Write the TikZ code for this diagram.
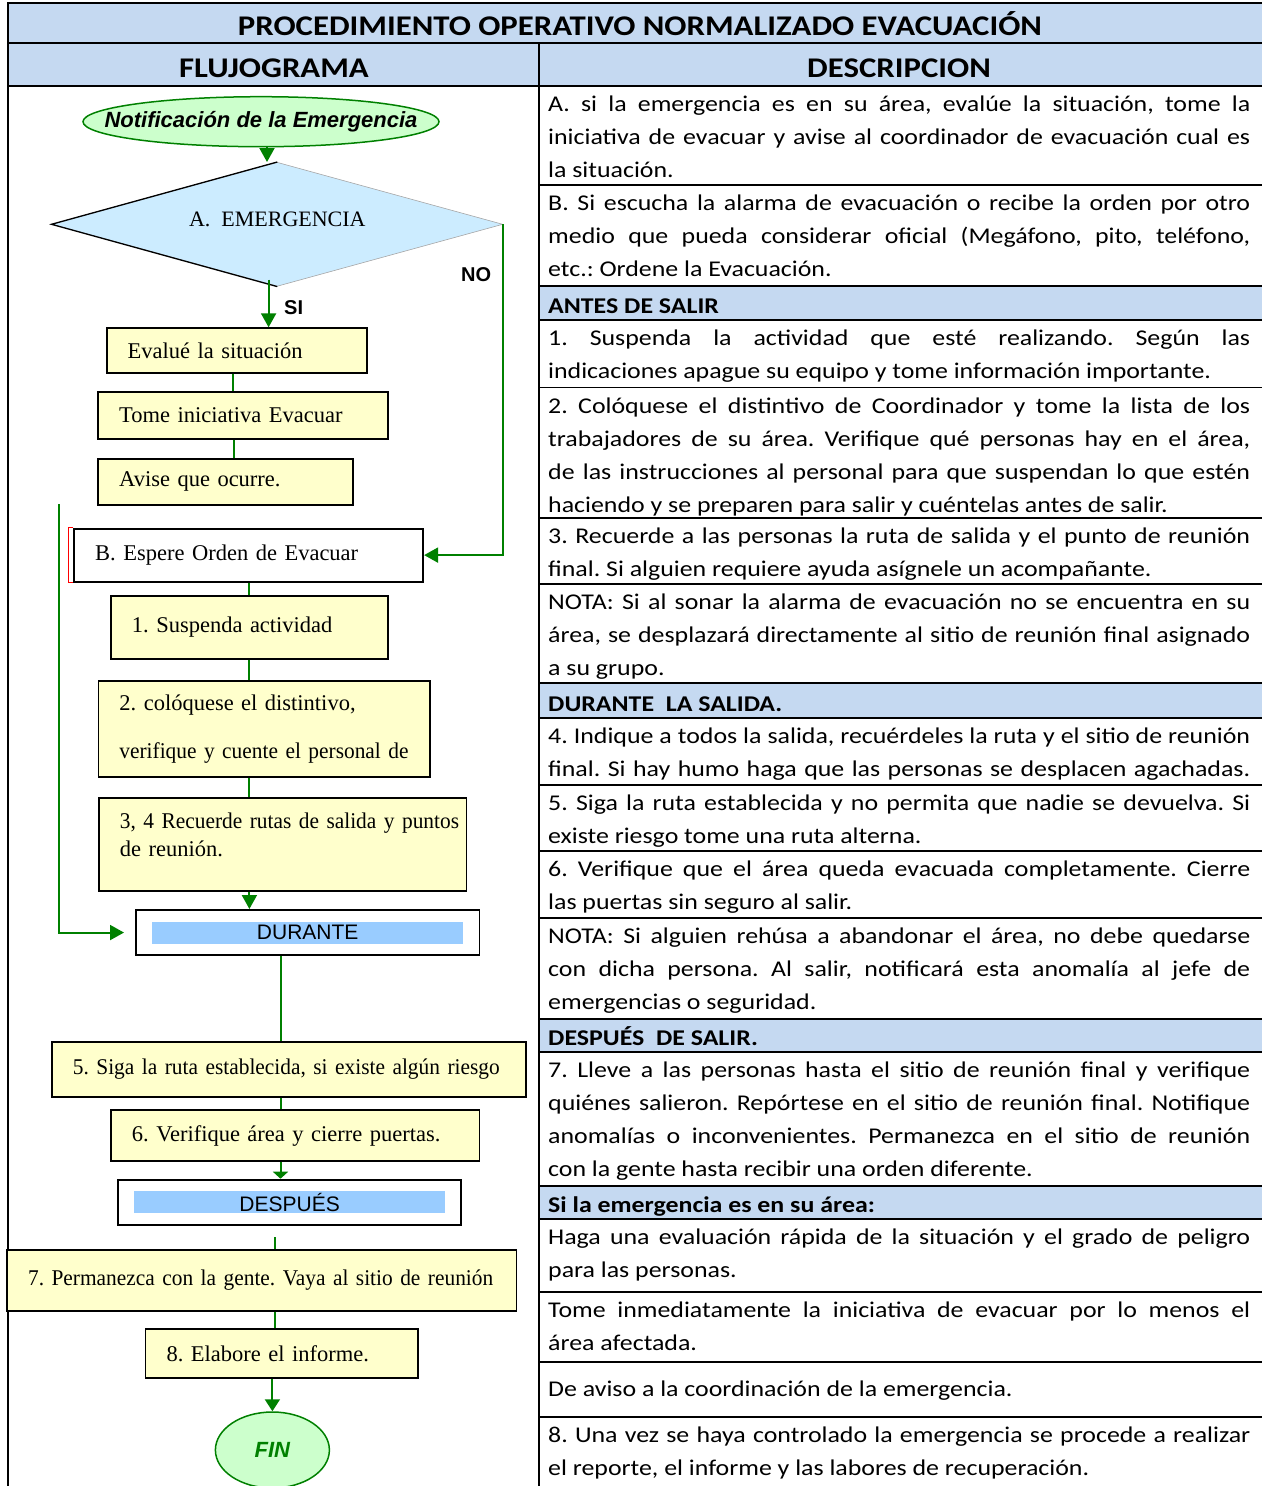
\documentclass[tikz,border=0pt]{standalone}
\usepackage{fontspec}
\setmainfont{Liberation Serif}
\newfontfamily\calib[FakeStretch=1.15]{Carlito}
\newfontfamily\arial{Liberation Sans}
\newfontfamily\tnrc[FakeStretch=0.95]{Liberation Serif}
\usetikzlibrary{shapes.geometric,arrows.meta,calc}
\definecolor{hdrblue}{HTML}{C5D9F1}
\definecolor{boxyellow}{HTML}{FFFFCC}
\definecolor{decblue}{HTML}{CCECFF}
\definecolor{termgreen}{HTML}{CCFFCC}
\definecolor{linkgreen}{HTML}{008000}
\definecolor{bandblue}{HTML}{99CCFF}
\newcommand{\jl}[1]{\makebox[702pt][s]{\strut#1}}
\frenchspacing
\tikzset{
  proc/.style={rectangle,draw=black,line width=1.8pt,fill=boxyellow,anchor=north west,
               align=left,inner xsep=21pt,inner ysep=0pt,font=\fontsize{22.5}{28}\selectfont},
  phase/.style={rectangle,draw=black,line width=1.8pt,fill=white,anchor=north west,inner sep=0pt,
                font=\arial\fontsize{21}{24}\selectfont,
                path picture={\fill[bandblue] ([xshift=-155.5pt,yshift=11pt]path picture bounding box.center)
                  rectangle ([xshift=155.5pt,yshift=-11pt]path picture bounding box.center);}},
  term/.style={ellipse,draw=linkgreen,line width=1.5pt,fill=termgreen,inner sep=0pt,
               font=\arial\bfseries\itshape\fontsize{22}{24}\selectfont},
  dec/.style={diamond,draw=gray!70,line width=0.6pt,fill=decblue,inner sep=0pt,aspect=3.64,
              font=\fontsize{22}{26}\selectfont},
  link/.style={draw=linkgreen,line width=2pt},
  flow/.style={link,-{Triangle[length=#1,width=15pt]}},
  flow/.default=14pt,
  lbl/.style={anchor=base west,inner sep=0pt,font=\arial\bfseries\fontsize{20}{22}\selectfont},
  ttl/.style={anchor=base,inner sep=0pt,font=\calib\bfseries\fontsize{28.5}{30}\selectfont},
  cell/.style={anchor=north west,inner sep=0pt,align=left,font=\calib\fontsize{22.5}{33}\selectfont,
               execute at begin node=\strut},
  hcell/.style={cell,font=\calib\bfseries\fontsize{22.5}{33}\selectfont},
  tbl/.style={draw=black,line width=1.8pt},
}
\begin{document}
\begin{tikzpicture}[x=1pt,y=-1pt]
\useasboundingbox (0,0) rectangle (1262,1486);
% table frame
\fill[hdrblue] (8,3.3) rectangle (1262,86);
\foreach \ya/\yb in {286/320,683/718,1019/1052,1186/1219}
  \fill[hdrblue] (539,\ya) rectangle (1262,\yb);
\draw[tbl] (8,1490) -- (8,3.3) -- (1262,3.3);
\draw[tbl] (8,43.3) -- (1262,43.3) (8,86) -- (1262,86);
\draw[tbl] (539,43.3) -- (539,1490);
\foreach \y in {185,286,320,387.5,518,584,683,718,785,851,918,1019,1052,1186,1219,1292,1362,1417}
  \draw[tbl] (539,\y) -- (1262,\y);
\node[ttl] (title) at (640,35) {PROCEDIMIENTO OPERATIVO NORMALIZADO EVACUACIÓN};
\node[ttl] (hflujo) at (274,77) {FLUJOGRAMA};
\node[ttl] (hdesc) at (899,77) {DESCRIPCION};

% flujograma
\node[term,minimum width=356pt,minimum height=50pt] (notif) at (261,121.7) {\makebox[0pt]{Notificación de la Emergencia}};
\node[dec,minimum width=451pt,minimum height=124pt,text depth=10pt] (emer) at (277.3,224.3) {A.\ \ EMERGENCIA};
\draw[line width=1.3pt] (emer.north) -- (emer.west) -- (emer.south);
\node[proc,text width=218pt,minimum height=44.4pt,text depth=0pt] (eval) at (105.7,327.3) {Evalué la situación};
\node[proc,text width=248pt,minimum height=46.7pt] (tome) at (97.3,391) {Tome iniciativa Evacuar};
\node[proc,text width=213pt,minimum height=46.6pt] (avise) at (97.3,457.7) {Avise que ocurre.};
\node[proc,fill=white,text width=307pt,minimum height=53pt] (espera) at (73.3,527.7) {B. Espere Orden de Evacuar};
\draw[red,line width=1.2pt] (espera.north west) -- ++(-4.5,0) |- (espera.south west);
\node[proc,text width=235pt,minimum height=62.7pt] (susp) at (110,595) {1. Suspenda actividad};
\node[proc,text width=289.5pt,minimum height=96pt] (colo) at (97.5,680) {2. colóquese el distintivo,\\[20pt]\mbox{\tnrc verifique y cuente el personal de}};
\node[proc,text width=325.6pt,minimum height=93.3pt] (recu) at (98,796.7) {\mbox{\tnrc 3, 4 Recuerde rutas de salida y puntos}\\de reunión.\\[-9pt]\mbox{}};
\node[phase,minimum width=343.6pt,minimum height=45.3pt] (dur) at (135,909) {DURANTE};
\node[proc,text width=432pt,minimum height=55.3pt] (siga) at (51,1040.7) {\mbox{\tnrc 5. Siga la ruta establecida, si existe algún riesgo}};
\node[proc,text width=326.6pt,minimum height=50.7pt] (verif) at (110,1109.3) {6. Verifique área y cierre puertas.};
\node[phase,minimum width=343.4pt,minimum height=45.3pt] (desp) at (117,1178.7) {DESPUÉS};
\node[proc,text width=467.3pt,minimum height=60.7pt] (perm) at (6.2,1249.3) {\mbox{\tnrc 7. Permanezca con la gente. Vaya al sitio de reunión}};
\node[proc,text width=230.8pt,minimum height=48.4pt] (elab) at (144.6,1328.3) {8. Elabore el informe.};
\node[term,minimum width=114pt,minimum height=76pt,text=linkgreen] (fin) at (272.4,1450) {FIN};
\node[lbl] (si) at (284,314) {SI};
\node[lbl] (no) at (461,281.7) {NO};

\draw[flow] ([xshift=6pt]notif.south) -- ([xshift=6pt]notif.south |- emer.north);
\draw[flow] ([xshift=-8.7pt,yshift=7pt]emer.south) -- ([xshift=-8.7pt]emer.south |- eval.north);
\draw[flow] (emer.east) -- (emer.east |- espera.east) -- (espera.east);
\draw[link] ([xshift=-3.3pt]eval.south) -- ([xshift=-3.3pt]eval.south |- tome.north);
\draw[link] ([xshift=-9.6pt]tome.south) -- ([xshift=-9.6pt]tome.south |- avise.north);
\draw[link] (espera.south) -- (espera.south |- susp.north);
\draw[link] (susp.south) -- (susp.south |- colo.north);
\draw[link] (susp.south |- colo.south) -- (susp.south |- recu.north);
\draw[flow] (susp.south |- recu.south) -- (susp.south |- dur.north);
\coordinate (back) at (59.3,504.3);
\draw[flow,shorten >=11pt] (back) |- (dur.west);
\draw[link] ([xshift=-27.2pt]dur.south) -- ([xshift=-27.2pt]dur.south |- siga.north);
\draw[link] ([xshift=-27.2pt]dur.south |- siga.south) -- ([xshift=-27.2pt]dur.south |- verif.north);
\draw[flow=7pt] ([xshift=-27.2pt]dur.south |- verif.south) -- ([xshift=-27.2pt]dur.south |- desp.north);
\coordinate (gap) at (274.8,1237.3);
\draw[link] (gap) -- (gap |- perm.north);
\draw[link] ([xshift=-7.2pt]elab.north |- perm.south) -- ([xshift=-7.2pt]elab.north);
\draw[flow=12pt] (elab.south -| fin.north) -- (fin.north);

% descripcion
\node[cell] (rA) at (548,88.4) {\jl{A. si la emergencia es en su área, evalúe la situación, tome la}\\
  \jl{iniciativa de evacuar y avise al coordinador de evacuación cual es}\\la situación.};
\node[cell] (rB) at (548,187.4) {\jl{B. Si escucha la alarma de evacuación o recibe la orden por otro}\\
  \jl{medio que pueda considerar oficial (Megáfono, pito, teléfono,}\\etc.: Ordene la Evacuación.};
\node[hcell] (hAntes) at (548,289.9) {ANTES DE SALIR};
\node[cell] (r1) at (548,322.4) {\jl{1. Suspenda la actividad que esté realizando. Según las}\\
  indicaciones apague su equipo y tome información importante.};
\node[cell] (r2) at (548,389.9) {\jl{2. Colóquese el distintivo de Coordinador y tome la lista de los}\\
  \jl{trabajadores de su área. Verifique qué personas hay en el área,}\\
  \jl{de las instrucciones al personal para que suspendan lo que estén}\\
  haciendo y se preparen para salir y cuéntelas antes de salir.};
\node[cell] (r3) at (548,520.4) {\jl{3. Recuerde a las personas la ruta de salida y el punto de reunión}\\
  final. Si alguien requiere ayuda asígnele un acompañante.};
\node[cell] (rN1) at (548,586.4) {\jl{NOTA: Si al sonar la alarma de evacuación no se encuentra en su}\\
  \jl{área, se desplazará directamente al sitio de reunión final asignado}\\a su grupo.};
\node[hcell] (hDur) at (548,687.9) {DURANTE\ \ LA SALIDA.};
\node[cell] (r4) at (548,720.4) {\jl{4. Indique a todos la salida, recuérdeles la ruta y el sitio de reunión}\\
  \jl{final. Si hay humo haga que las personas se desplacen agachadas.}};
\node[cell] (r5) at (548,787.4) {\jl{5. Siga la ruta establecida y no permita que nadie se devuelva. Si}\\
  existe riesgo tome una ruta alterna.};
\node[cell] (r6) at (548,853.4) {\jl{6. Verifique que el área queda evacuada completamente. Cierre}\\
  las puertas sin seguro al salir.};
\node[cell] (rN2) at (548,920.4) {\jl{NOTA: Si alguien rehúsa a abandonar el área, no debe quedarse}\\
  \jl{con dicha persona. Al salir, notificará esta anomalía al jefe de}\\emergencias o seguridad.};
\node[hcell] (hDesp) at (548,1021.9) {DESPUÉS\ \ DE SALIR.};
\node[cell] (r7) at (548,1054.4) {\jl{7. Lleve a las personas hasta el sitio de reunión final y verifique}\\
  \jl{quiénes salieron. Repórtese en el sitio de reunión final. Notifique}\\
  \jl{anomalías o inconvenientes. Permanezca en el sitio de reunión}\\
  con la gente hasta recibir una orden diferente.};
\node[hcell] (hSi) at (548,1188.9) {Si la emergencia es en su área:};
\node[cell] (rHaga) at (548,1221.4) {\jl{Haga una evaluación rápida de la situación y el grado de peligro}\\
  para las personas.};
\node[cell] (rTome) at (548,1294.4) {\jl{Tome inmediatamente la iniciativa de evacuar por lo menos el}\\
  área afectada.};
\node[cell] (rAviso) at (548,1372.9) {De aviso a la coordinación de la emergencia.};
\node[cell] (r8) at (548,1419.4) {\jl{8. Una vez se haya controlado la emergencia se procede a realizar}\\
  el reporte, el informe y las labores de recuperación.};
\end{tikzpicture}
\end{document}
